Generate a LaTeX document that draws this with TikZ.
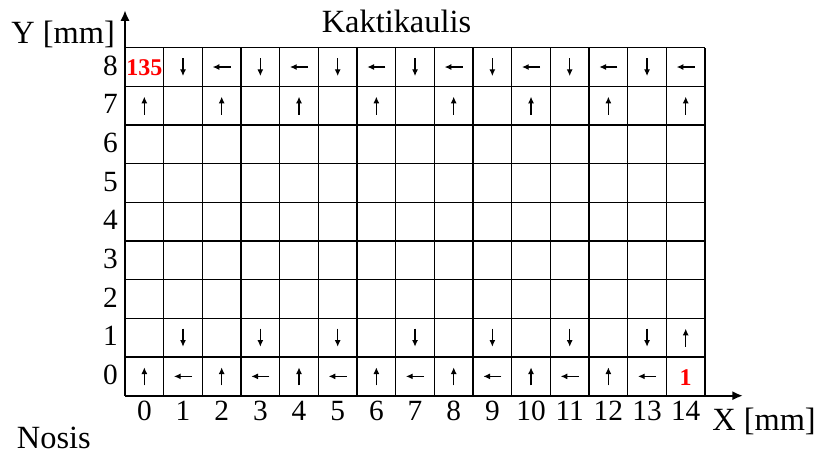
\documentclass[tikz,border=0pt]{standalone}
\usepackage{fontspec}
\setmainfont{Liberation Serif}
\usetikzlibrary{arrows.meta}
\begin{document}
\begin{tikzpicture}[x=29pt,y=29pt,
  lbl/.style={font=\fontsize{24.3}{27}\selectfont, inner sep=0pt},
  dig/.style={font=\fontsize{22}{25}\selectfont, inner sep=0pt},
  num/.style={font=\fontsize{18}{20}\selectfont\bfseries, text=red, inner sep=0pt, anchor=base},
  cellarrow/.style={line width=0.85pt, -{Latex[length=5pt,width=4.5pt]}},
  gridline/.style={line width=1.1pt},
  axis/.style={line width=1.8pt, -{Latex[length=8pt,width=7pt]}}]
\useasboundingbox (-3.2325,-1.508) rectangle (17.895,10.233);
\foreach \i in {1,...,15} \draw[gridline] (\i,0) -- (\i,9);
\foreach \j in {1,...,9} \draw[gridline] (0,\j) -- (15,\j);
\coordinate (O) at (0,0);
\coordinate (xe) at (15.98,0);
\coordinate (ye) at (0,9.97);
\draw[axis] (O) -- (xe);
\draw[axis] (O) -- (ye);
% labels
\node[lbl, anchor=base] (title) at (7.02,9.38) {Kaktikaulis};
\node[lbl, anchor=base] (ylab) at (-1.60,9.12) {Y [mm]};
\node[lbl, anchor=base west] (xlab) at (15.18,-0.89) {X [mm]};
\node[lbl, anchor=base] (nosis) at (-1.84,-1.36) {Nosis};
\foreach \i in {0,...,14} \node[dig, anchor=base] (cx\i) at (\i+0.5,-0.63) {\i};
\foreach \j in {0,...,8} \node[dig, anchor=base east] (ry\j) at (-0.18,\j+0.29) {\j};
% red numbers
\node[num] (n135) at (0.5,8.27) {135};
\node[num] (n1) at (14.5,0.27) {1};
% cell arrows
\foreach \c in {1,3,...,13} \draw[cellarrow] (\c+0.5,8.733) -- (\c+0.5,8.267);
\foreach \c in {2,4,...,14} \draw[cellarrow] (\c+0.733,8.5) -- (\c+0.267,8.5);
\foreach \c in {0,2,...,14} \draw[cellarrow] (\c+0.5,7.267) -- (\c+0.5,7.733);
\foreach \c in {1,3,...,13} \draw[cellarrow] (\c+0.5,1.733) -- (\c+0.5,1.267);
\draw[cellarrow] (14.5,1.267) -- (14.5,1.733);
\foreach \c in {0,2,...,12} \draw[cellarrow] (\c+0.5,0.267) -- (\c+0.5,0.733);
\foreach \c in {1,3,...,13} \draw[cellarrow] (\c+0.733,0.5) -- (\c+0.267,0.5);
\end{tikzpicture}
\end{document}
